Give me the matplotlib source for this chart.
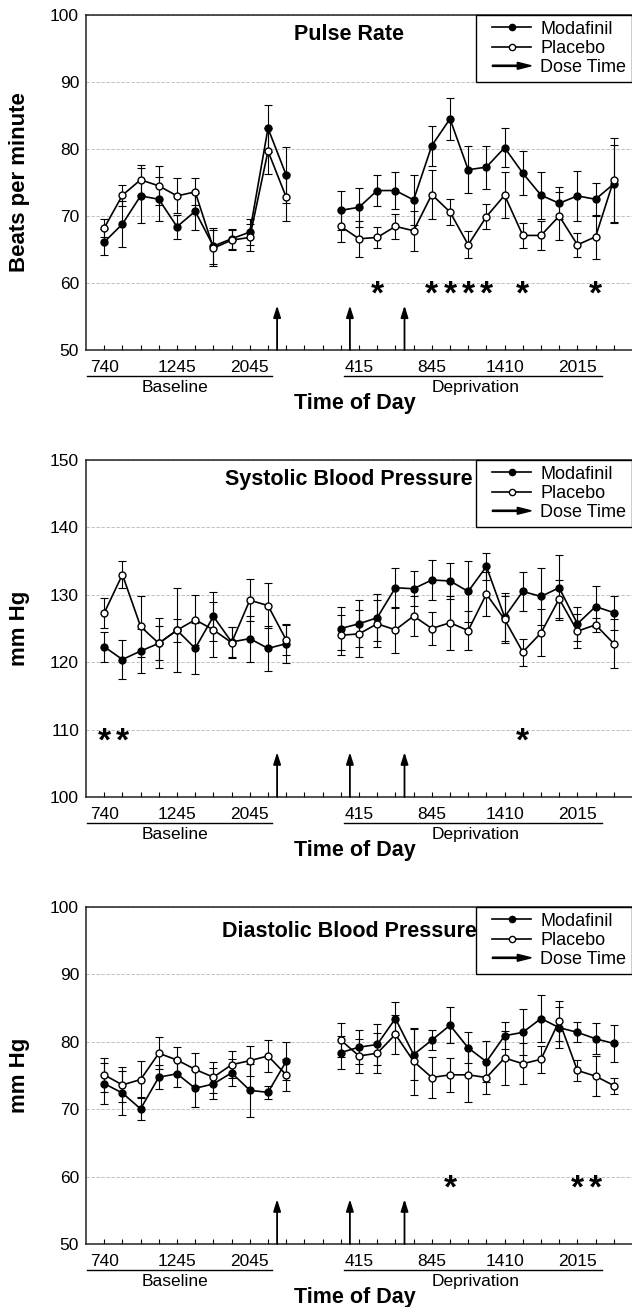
import matplotlib
matplotlib.use('Agg')
import matplotlib.pyplot as plt
import matplotlib.patches as mpatches
from matplotlib.lines import Line2D
from matplotlib.legend_handler import HandlerLine2D, HandlerPatch

plt.rcParams['font.family'] = ['Liberation Sans', 'DejaVu Sans']

# ---------------- data ----------------
base_idx = list(range(0, 11))
dep_idx = list(range(13, 29))
tick_pos = [0, 4, 8, 14, 18, 22, 26]
tick_labels = ['740', '1245', '2045', '415', '845', '1410', '2015']
dose_times = [9.5, 13.5, 16.5]

# Pulse rate
pulse_mod_b = [66.1, 68.8, 73.0, 72.5, 68.4, 70.7, 65.5, 66.6, 67.6, 83.1, 76.1]
pulse_mod_b_err = [1.9, 3.5, 4.1, 3.3, 1.8, 2.8, 2.7, 1.5, 2.0, 3.5, 4.2]
pulse_pla_b = [68.2, 73.1, 75.4, 74.5, 73.0, 73.6, 65.2, 66.4, 66.8, 79.7, 72.8]
pulse_pla_b_err = [1.4, 1.6, 2.2, 2.9, 2.6, 2.0, 2.7, 1.5, 2.0, 3.4, 3.5]
pulse_mod_d = [70.85, 71.3, 73.8, 73.8, 72.4, 80.5, 84.5, 76.9, 77.3, 80.2, 76.4, 73.1, 71.9, 73.0, 72.5, 74.8]
pulse_mod_d_err = [2.9, 2.9, 2.3, 2.8, 3.7, 3.0, 3.1, 3.5, 3.2, 2.9, 3.3, 3.5, 2.4, 3.7, 2.5, 5.8]
pulse_pla_d = [68.45, 66.6, 66.8, 68.45, 67.8, 73.2, 70.6, 65.7, 69.9, 73.1, 67.1, 67.1, 70.0, 65.7, 66.9, 75.4]
pulse_pla_d_err = [2.4, 2.7, 1.6, 1.9, 3.0, 3.7, 2.0, 2.0, 1.9, 3.4, 1.9, 2.1, 3.6, 1.8, 3.3, 6.3]
pulse_stars = [15, 18, 19, 20, 21, 23, 27]

# Systolic blood pressure
sys_mod_b = [122.3, 120.4, 121.65, 122.8, 124.75, 122.05, 126.8, 123.0, 123.5, 122.05, 122.75]
sys_mod_b_err = [2.25, 2.85, 3.3, 3.7, 6.2, 3.75, 3.6, 2.25, 3.4, 3.3, 2.85]
sys_pla_b = [127.3, 133.0, 125.3, 122.8, 124.75, 126.3, 124.8, 122.9, 129.2, 128.4, 123.3]
sys_pla_b_err = [2.2, 2.0, 4.5, 2.5, 1.7, 3.7, 4.1, 2.25, 3.1, 3.35, 2.2]
sys_mod_d = [125.0, 125.7, 126.6, 131.05, 130.9, 132.2, 132.05, 130.5, 134.2, 126.7, 130.5, 129.75, 131.05, 125.7, 128.25, 127.35]
sys_mod_d_err = [3.2, 3.5, 3.5, 3.0, 2.6, 3.0, 2.6, 4.5, 2.0, 3.5, 2.9, 4.3, 4.8, 2.5, 3.0, 2.5]
sys_pla_d = [124.0, 124.2, 125.7, 124.8, 126.85, 125.0, 125.85, 124.7, 130.1, 126.35, 121.5, 124.35, 129.4, 124.6, 125.55, 122.75]
sys_pla_d_err = [3.0, 3.5, 3.5, 3.4, 2.9, 2.5, 4.0, 2.9, 3.25, 3.5, 2.0, 3.5, 2.8, 2.5, 1.0, 3.6]
sys_stars = [0, 1, 23]

# Diastolic blood pressure
dia_mod_b = [73.8, 72.4, 70.05, 74.75, 75.25, 73.1, 73.75, 75.4, 72.8, 72.5, 77.1]
dia_mod_b_err = [3.1, 3.2, 1.7, 1.8, 2.0, 2.7, 2.3, 2.0, 3.9, 1.0, 2.8]
dia_pla_b = [75.1, 73.6, 74.4, 78.3, 77.3, 75.9, 74.75, 76.6, 77.2, 77.9, 75.1]
dia_pla_b_err = [2.5, 2.6, 2.7, 2.4, 2.0, 2.5, 2.3, 2.0, 2.2, 2.4, 2.4]
dia_mod_d = [78.4, 79.2, 79.6, 83.45, 78.1, 80.25, 82.45, 79.1, 77.05, 80.9, 81.4, 83.45, 82.1, 81.4, 80.45, 79.75]
dia_mod_d_err = [2.5, 2.5, 3.0, 2.5, 3.8, 1.5, 2.7, 2.3, 3.0, 2.0, 3.4, 3.5, 3.0, 1.5, 2.3, 2.7]
dia_pla_d = [80.25, 77.9, 78.3, 81.1, 77.1, 74.7, 75.1, 75.1, 74.7, 77.6, 76.75, 77.4, 83.1, 75.75, 74.9, 73.5]
dia_pla_d_err = [2.5, 2.5, 3.0, 2.9, 5.0, 3.1, 2.5, 4.0, 2.5, 4.0, 3.0, 2.0, 3.0, 1.6, 3.0, 1.2]
dia_stars = [19, 26, 27]

# ---------------- figure ----------------
W, H = 632, 1307
fig = plt.figure(figsize=(W / 100, H / 100), dpi=100)


def arrow_patch(legend, orig_handle, xdescent, ydescent, width, height, fontsize):
    return mpatches.FancyArrow(-xdescent, -ydescent + height / 2, width, 0,
                               width=0.9, head_width=5, head_length=10,
                               length_includes_head=True, color='black')


def panel(top_px, bot_px, title, ylabel, ylim, ytks, star_y,
          mod_b, mod_b_err, pla_b, pla_b_err, mod_d, mod_d_err, pla_d, pla_d_err,
          stars, title_y):
    hpx = bot_px - top_px
    ax = fig.add_axes([86 / W, 1 - bot_px / H, 546 / W, hpx / H])
    ax.set_xlim(-1, 29)
    ax.set_ylim(*ylim)
    ax.set_yticks(ytks)
    ax.tick_params(axis='y', length=0, pad=5, labelsize=12.5)
    ax.set_xticks(tick_pos)
    ax.set_xticklabels(tick_labels)
    ax.set_xticks(range(0, 29), minor=True)
    ax.tick_params(axis='x', which='both', direction='in', length=3.5, width=0.8,
                   pad=7.5, labelsize=12.5)
    for s in ['left', 'bottom', 'top']:
        ax.spines[s].set_linewidth(1.1)
        ax.spines[s].set_color('#222222')
    ax.spines['right'].set_visible(False)
    ax.yaxis.grid(True, linestyle=(0, (4, 2)), color='#b5b5b5', linewidth=0.6)
    ax.set_axisbelow(True)

    kw_err = dict(fmt='none', ecolor='black', elinewidth=0.8, capsize=3, capthick=0.8, zorder=2)
    for xs, m, me, p, pe in [(base_idx, mod_b, mod_b_err, pla_b, pla_b_err),
                             (dep_idx, mod_d, mod_d_err, pla_d, pla_d_err)]:
        ax.errorbar(xs, m, yerr=me, **kw_err)
        ax.errorbar(xs, p, yerr=pe, **kw_err)
        ax.plot(xs, m, color='black', lw=1.2, marker='o', markersize=5,
                markerfacecolor='black', markeredgecolor='black', zorder=3)
        ax.plot(xs, p, color='black', lw=1.2, marker='o', markersize=5,
                markerfacecolor='white', markeredgecolor='black', markeredgewidth=1, zorder=4)

    # significance stars
    for sx in stars:
        ax.annotate('*', xy=(sx, star_y), xytext=(0, -15), textcoords='offset points',
                    ha='center', va='baseline', fontsize=24, fontweight='bold')

    # dose arrows
    span = ylim[1] - ylim[0]
    for dx in dose_times:
        ax.annotate('', xy=(dx, ylim[0] + 0.133 * span), xytext=(dx, ylim[0]),
                    arrowprops=dict(arrowstyle='-|>,head_length=0.7,head_width=0.22',
                                    color='black', lw=1.3, shrinkA=0, shrinkB=0),
                    annotation_clip=False)

    # title
    ax.text(0.482, title_y, title, transform=ax.transAxes, ha='center', va='baseline',
            fontsize=15.5, fontweight='bold')

    ax.set_ylabel(ylabel, fontsize=16, fontweight='bold')
    ax.yaxis.set_label_coords(-0.103, 0.5)

    # underlines and phase labels
    xt = ax.get_xaxis_transform()
    uy = -26 / hpx
    ax.plot([-0.93, 9.23], [uy, uy], transform=xt, clip_on=False, color='black', lw=1)
    ax.plot([13.15, 27.36], [uy, uy], transform=xt, clip_on=False, color='black', lw=1)
    ax.text(3.9, -37.5 / hpx, 'Baseline', transform=xt, ha='center', va='center', fontsize=12.5)
    ax.text(20.4, -37.5 / hpx, 'Deprivation', transform=xt, ha='center', va='center', fontsize=12.5)
    ax.text((355 - 86) / 546, -53.5 / hpx, 'Time of Day', transform=ax.transAxes,
            ha='center', va='center', fontsize=15.5, fontweight='bold')

    # legend
    h_mod = Line2D([], [], color='black', lw=1.2, marker='o', markersize=4.5,
                   markerfacecolor='black')
    h_pla = Line2D([], [], color='black', lw=1.2, marker='o', markersize=4.5,
                   markerfacecolor='white')
    h_dose = mpatches.Patch(color='black')
    leg = ax.legend([h_mod, h_pla, h_dose], ['Modafinil', 'Placebo', 'Dose Time'],
                    loc='upper right', bbox_to_anchor=(1.0, 1.0), borderaxespad=0,
                    fontsize=13, frameon=True, fancybox=False, framealpha=1,
                    edgecolor='black', labelspacing=0.12, borderpad=0.32,
                    handlelength=2.75, handletextpad=0.5,
                    handler_map={h_mod: HandlerLine2D(numpoints=1, xpad=0.6),
                                 h_pla: HandlerLine2D(numpoints=1, xpad=0.6),
                                 h_dose: HandlerPatch(patch_func=arrow_patch, xpad=0.6)})
    leg.get_frame().set_linewidth(1.0)
    return ax


panel(15, 350, 'Pulse Rate', 'Beats per minute', (50, 100), [50, 60, 70, 80, 90, 100], 60,
      pulse_mod_b, pulse_mod_b_err, pulse_pla_b, pulse_pla_b_err,
      pulse_mod_d, pulse_mod_d_err, pulse_pla_d, pulse_pla_d_err, pulse_stars, 0.925)
panel(460, 797, 'Systolic Blood Pressure', 'mm Hg', (100, 150), [100, 110, 120, 130, 140, 150], 110,
      sys_mod_b, sys_mod_b_err, sys_pla_b, sys_pla_b_err,
      sys_mod_d, sys_mod_d_err, sys_pla_d, sys_pla_d_err, sys_stars, 0.926)
panel(907, 1244, 'Diastolic Blood Pressure', 'mm Hg', (50, 100), [50, 60, 70, 80, 90, 100], 60,
      dia_mod_b, dia_mod_b_err, dia_pla_b, dia_pla_b_err,
      dia_mod_d, dia_mod_d_err, dia_pla_d, dia_pla_d_err, dia_stars, 0.912)

fig.savefig('out.png', dpi=100)
